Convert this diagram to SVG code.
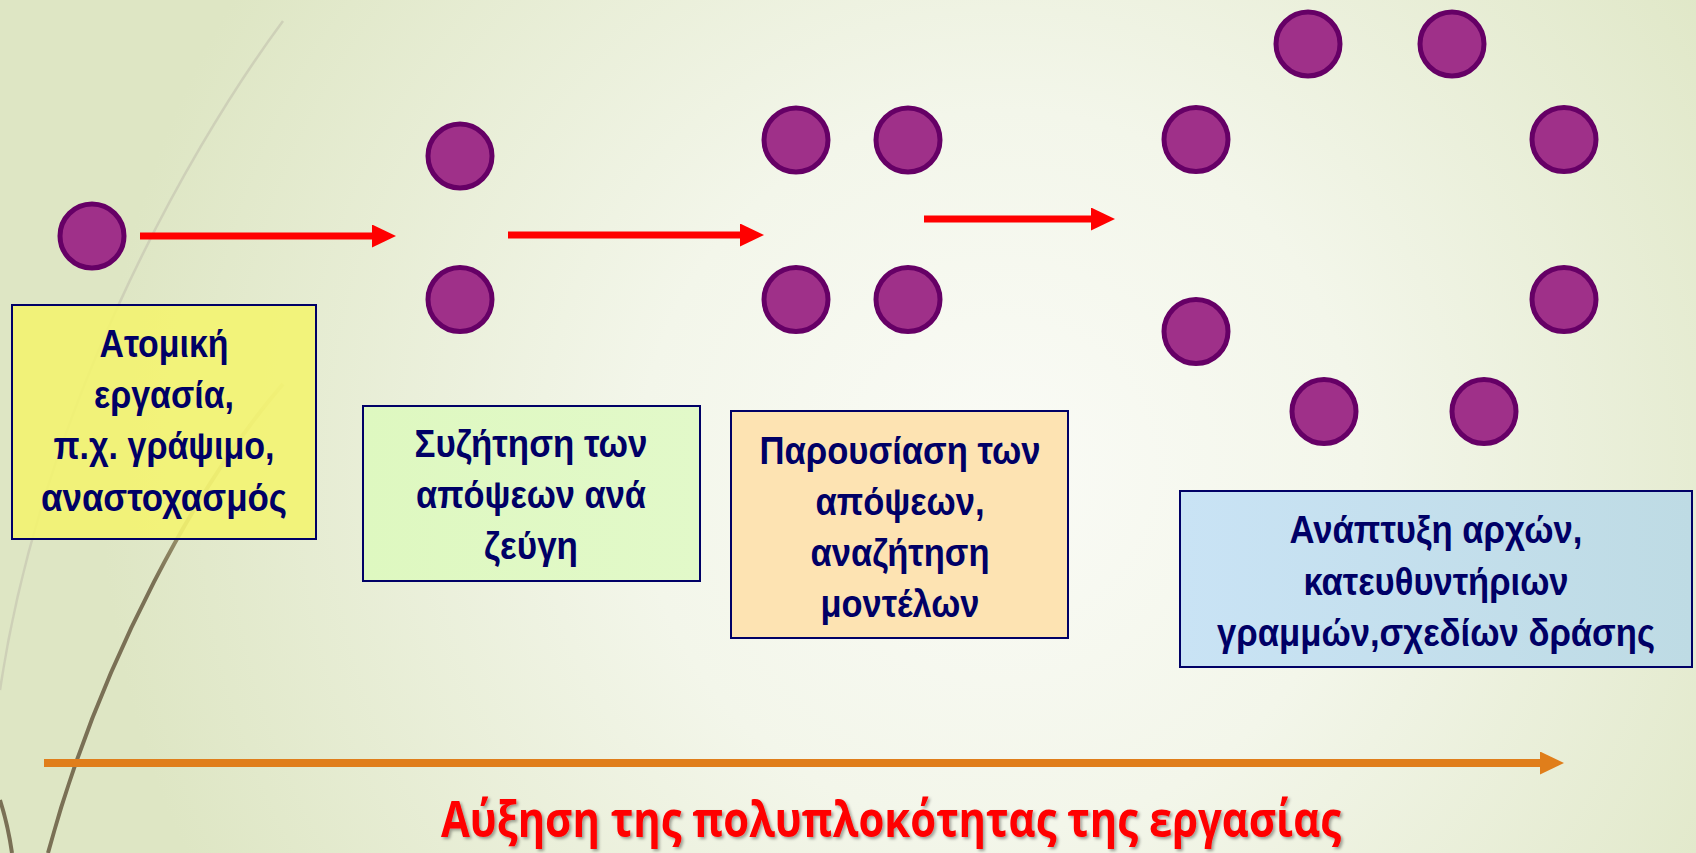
<svg xmlns="http://www.w3.org/2000/svg" width="1696" height="853" viewBox="0 0 1696 853">
<defs>
<radialGradient id="bg" gradientUnits="userSpaceOnUse" cx="1000" cy="470" r="900">
<stop offset="0" stop-color="#FAFBF6"/>
<stop offset="0.4" stop-color="#F3F6EA"/>
<stop offset="1" stop-color="#DEE6C4"/>
</radialGradient>
<linearGradient id="gBlue" x1="0" y1="0" x2="1" y2="0">
<stop offset="0" stop-color="#C9E3F5"/>
<stop offset="1" stop-color="#BEDBE4"/>
</linearGradient>
<linearGradient id="gGreen" x1="0" y1="0" x2="1" y2="0">
<stop offset="0" stop-color="#DEF8C0"/>
<stop offset="1" stop-color="#E2F9C9"/>
</linearGradient>
<linearGradient id="gWisp" gradientUnits="userSpaceOnUse" x1="0" y1="384" x2="0" y2="580">
<stop offset="0" stop-color="#B8B070" stop-opacity="0.3"/>
<stop offset="0.6" stop-color="#9A9060" stop-opacity="0.8"/>
<stop offset="1" stop-color="#7A7055"/>
</linearGradient>
<marker id="headRed" markerUnits="userSpaceOnUse" markerWidth="26" markerHeight="24" refX="0" refY="11.5" orient="auto">
<path d="M0,0 L24,11.5 L0,23 z" fill="#FF0000"/>
</marker>
<marker id="headOrange" markerUnits="userSpaceOnUse" markerWidth="26" markerHeight="24" refX="0" refY="11.5" orient="auto">
<path d="M0,0 L24,11.5 L0,23 z" fill="#E07E1B"/>
</marker>
<filter id="shadow" x="-5%" y="-30%" width="110%" height="160%">
<feDropShadow dx="2" dy="2" stdDeviation="1.5" flood-color="#000000" flood-opacity="0.35"/>
</filter>
</defs>
<style>
.dot{fill:#9F3089;stroke:#660066;stroke-width:5}
.box{stroke:#000066;stroke-width:2}
.lbl{font-family:"Liberation Sans",Arial,sans-serif;font-weight:bold;font-size:39px;fill:#000066;text-anchor:middle}
.red{stroke:#FF0000;stroke-width:7;fill:none;marker-end:url(#headRed)}
.title{font-family:"Open Sans","Noto Sans",sans-serif;font-weight:bold;font-size:50px;fill:#FF0000}
</style>
<rect x="0" y="0" width="1696" height="853" fill="url(#bg)"/>
<g id="decor" fill="none">
<path d="M283,21 C180,160 40,420 0,690" stroke="#C9CBB4" stroke-width="2.5" opacity="0.8"/>
<path d="M283,384 C200,480 100,660 48,853" stroke="url(#gWisp)" stroke-width="4"/>
<path d="M0,800 Q8,825 12,853" stroke="#7A7055" stroke-width="4"/>
</g>
<g id="connectors">
<line class="red" x1="140" y1="236" x2="372" y2="236"/>
<line class="red" x1="508" y1="235" x2="740" y2="235"/>
<line class="red" x1="924" y1="219" x2="1091" y2="219"/>
<line x1="44" y1="763" x2="1540" y2="763" stroke="#E07E1B" stroke-width="8" marker-end="url(#headOrange)"/>
</g>
<g id="stage1">
<circle class="dot" cx="92" cy="236" r="32"/>
</g>
<g id="stage2">
<circle class="dot" cx="460" cy="156" r="32"/>
<circle class="dot" cx="460" cy="299.5" r="32"/>
</g>
<g id="stage3">
<circle class="dot" cx="796" cy="140" r="32"/>
<circle class="dot" cx="908" cy="140" r="32"/>
<circle class="dot" cx="796" cy="299.5" r="32"/>
<circle class="dot" cx="908" cy="299.5" r="32"/>
</g>
<g id="stage4">
<circle class="dot" cx="1308" cy="44" r="32"/>
<circle class="dot" cx="1452" cy="44" r="32"/>
<circle class="dot" cx="1196" cy="139.5" r="32"/>
<circle class="dot" cx="1564" cy="139.5" r="32"/>
<circle class="dot" cx="1196" cy="331.5" r="32"/>
<circle class="dot" cx="1564" cy="299.5" r="32"/>
<circle class="dot" cx="1324" cy="411.5" r="32"/>
<circle class="dot" cx="1484" cy="411.5" r="32"/>
</g>
<g id="box1">
<rect class="box" x="12" y="305" width="304" height="234" fill="#F4F46E" fill-opacity="0.88"/>
<text class="lbl" x="164" y="357" textLength="129" lengthAdjust="spacingAndGlyphs">Ατομική</text>
<text class="lbl" x="164" y="408" textLength="140" lengthAdjust="spacingAndGlyphs">εργασία,</text>
<text class="lbl" x="164" y="459" textLength="221" lengthAdjust="spacingAndGlyphs">π.χ. γράψιμο,</text>
<text class="lbl" x="164" y="511" textLength="246" lengthAdjust="spacingAndGlyphs">αναστοχασμός</text>
</g>
<g id="box2">
<rect class="box" x="363" y="406" width="337" height="175" fill="url(#gGreen)"/>
<text class="lbl" x="531" y="457" textLength="233" lengthAdjust="spacingAndGlyphs">Συζήτηση των</text>
<text class="lbl" x="531" y="508" textLength="230" lengthAdjust="spacingAndGlyphs">απόψεων ανά</text>
<text class="lbl" x="531" y="559" textLength="94" lengthAdjust="spacingAndGlyphs">ζεύγη</text>
</g>
<g id="box3">
<rect class="box" x="731" y="411" width="337" height="227" fill="#FDE3B2"/>
<text class="lbl" x="900" y="464" textLength="281" lengthAdjust="spacingAndGlyphs">Παρουσίαση των</text>
<text class="lbl" x="900" y="515" textLength="169" lengthAdjust="spacingAndGlyphs">απόψεων,</text>
<text class="lbl" x="900" y="566" textLength="179" lengthAdjust="spacingAndGlyphs">αναζήτηση</text>
<text class="lbl" x="900" y="617" textLength="159" lengthAdjust="spacingAndGlyphs">μοντέλων</text>
</g>
<g id="box4">
<rect class="box" x="1180" y="491" width="512" height="176" fill="url(#gBlue)"/>
<text class="lbl" x="1436" y="543" textLength="293" lengthAdjust="spacingAndGlyphs">Ανάπτυξη αρχών,</text>
<text class="lbl" x="1436" y="595" textLength="265" lengthAdjust="spacingAndGlyphs">κατευθυντήριων</text>
<text class="lbl" x="1436" y="646" textLength="438" lengthAdjust="spacingAndGlyphs">γραμμών,σχεδίων δράσης</text>
</g>
<g id="axis-label">
<text class="title" x="441" y="837" textLength="900" lengthAdjust="spacingAndGlyphs" filter="url(#shadow)">Αύξηση της πολυπλοκότητας της εργασίας</text>
</g>
</svg>
